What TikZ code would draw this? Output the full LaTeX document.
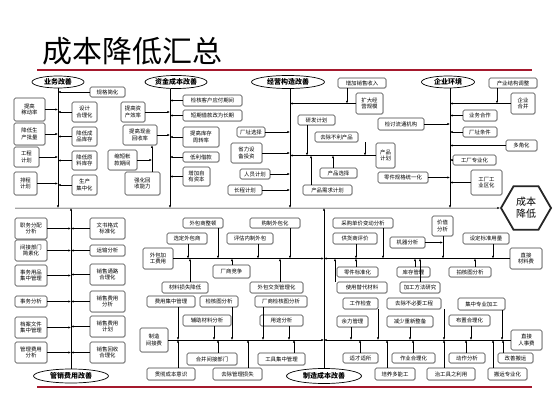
\documentclass[tikz,border=0pt]{standalone}
\usepackage{fontspec}
\setmainfont{Noto Sans CJK SC}
\usetikzlibrary{shapes.geometric,arrows.meta,shadows}
\definecolor{redline}{RGB}{165,25,45}
\tikzset{
 bx/.style={draw=black!75, rounded corners=1.5pt, fill=white, font=\fontsize{5.4}{6.4}\selectfont, align=center, inner sep=0pt, line width=0.55pt, drop shadow={shadow xshift=0.7pt, shadow yshift=-0.7pt, fill=black!35}},
 ell/.style={draw, ellipse, line width=0.7pt, fill=white, font=\fontsize{7}{8}\selectfont\bfseries, inner sep=0pt},
 ln/.style={line width=0.5pt},
 ar/.style={line width=0.5pt, -{Latex[length=2.6pt,width=2.2pt]}},
}
\newcommand\mybox[6]{\node[bx, minimum width={(#4)-(#2)}, minimum height={(#5)-(#3)}] (#1) at ({((#2)+(#4))/2},{((#3)+(#5))/2}) {#6};}
\begin{document}
\begin{tikzpicture}[x=1pt,y=-1pt]
\useasboundingbox (0,0) rectangle (560,420);
\fill[white] (0,0) rectangle (560,420);
% title and rules
\node[font=\fontsize{30}{32}\selectfont, anchor=base west, inner sep=0] (title) at (42,63) {成本降低汇总};
\draw[redline, line width=1.3pt] (37,70) -- (532,70);
\draw[redline, line width=1.3pt] (37,387) -- (532,387);
% main line
\coordinate (mainL) at (15,208);
\node[draw=black!85, line width=1.8pt, regular polygon, regular polygon sides=6, minimum size=50, font=\fontsize{10}{12}\selectfont, align=center, inner sep=0pt, fill=white] (hex) at (526,208) {成本\\降低};
\draw[ar] (mainL) -- (hex.west);
% ---------------- column 1
\node[ell, minimum width=52, minimum height=12] (e1) at (58,82) {业务改善};
\coordinate (L1) at (58,208);
\draw[ar] (e1.south) -- (L1);
\mybox{gg}{90}{87}{125}{97}{规格简化}
\mybox{jd}{14}{98}{45}{121}{提高\\稼动率}
\mybox{sj}{72}{102}{97}{122}{设计\\合理化}
\mybox{pl}{14}{123}{45}{145}{降低生\\产批量}
\mybox{cp}{72}{127}{97}{146}{降低成\\品库存}
\mybox{gc}{14}{147}{39}{167}{工程\\计划}
\mybox{yl}{72}{151}{97}{170}{降低原\\料库存}
\mybox{pc}{14}{172}{37}{195}{排程\\计划}
\mybox{jz}{72}{175}{97}{195}{生产\\集中化}
\foreach \b in {gg,sj,cp,yl,jz} \draw[ar] (\b.west) -- (\b.west -| L1);
\foreach \b in {jd,pl,gc,pc} \draw[ar] (\b.east) -- (\b.east -| L1);
% ---------------- column 2
\node[ell, minimum width=62, minimum height=13] (e2) at (176,82) {资金成本改善};
\coordinate (L2) at (170,208);
\draw[ar] (e2.south -| L2) -- (L2);
\mybox{kh}{183}{95}{242}{106}{检核客户应付期间}
\mybox{dq}{183}{110}{242}{121}{短期借款改为长期}
\mybox{kc}{183}{127}{219}{147}{提高库存\\周转率}
\mybox{dl}{183}{152}{219}{162}{低利借款}
\mybox{zy}{183}{167}{210}{186}{增加自\\有资本}
\mybox{zc}{121}{102}{145}{122}{提高资\\产效率}
\mybox{xj}{123}{125}{157}{145}{提高现金\\回收率}
\mybox{sd}{108}{150}{137}{170}{缩短帐\\款期间}
\mybox{qh}{125}{172}{160}{195}{强化回\\收能力}
\foreach \b in {kh,dq,kc,dl,zy} \draw[ar] (\b.west) -- (\b.west -| L2);
\foreach \b in {zc,xj} \draw[ar] (\b.east) -- (\b.east -| L2);
\coordinate (v2) at (152,160);
\draw[ar] (sd.east) -- (v2);
\draw[ar] (qh.north -| v2) -- (xj.south -| v2);
% ---------------- column 3
\node[ell, minimum width=73, minimum height=13] (e3) at (288,82) {经营构造改善};
\coordinate (L3) at (290,208);
\draw[ar] (e3.south -| L3) -- (L3);
\mybox{xs}{338}{78}{386}{88}{增加销售收入}
\mybox{kd}{356}{93}{383}{114}{扩大经\\营规模}
\mybox{yf}{298}{115}{335}{125}{研发计划}
\mybox{qc}{315}{132}{358}{142}{去除不利产品}
\mybox{cj}{376}{143}{395}{168}{产品\\计划}
\mybox{cx}{320}{168}{357}{178}{产品选择}
\mybox{xq}{303}{185}{352}{195}{产品需求计划}
\mybox{lt}{378}{118}{424}{130}{检讨流通机构}
\mybox{lj}{378}{172}{428}{183}{零件规格统一化}
\mybox{cz}{237}{127}{265}{137}{厂址选择}
\mybox{sl}{231}{143}{262}{163}{省力设\\备投资}
\mybox{ry}{240}{169}{270}{179}{人员计划}
\mybox{cc}{228}{185}{262}{195}{长程计划}
\coordinate (j3a) at (347,103.5);
\draw[ar] (xs.south -| j3a) -- (j3a);
\draw[ar] (kd.west) -- (kd.west -| L3);
\draw[ar] (cj.west) -- (cj.west -| L3);
\coordinate (j3b) at (307,155.5);
\draw[ar] (yf.south -| j3b) -- (j3b);
\coordinate (j3c) at (365,155.5);
\draw[ar] (qc.south -| j3c) -- (j3c);
\coordinate (j3d) at (333,155.5);
\draw[ar] (cx.north -| j3d) -- (j3d);
\coordinate (j3e) at (311,155.5);
\draw[ar] (xq.north -| j3e) -- (j3e);
\draw[ar] (cz.east) -- (cz.east -| L3);
\draw[ar] (sl.east) -- (sl.east -| L3);
\draw[ar] (ry.east) -- (ry.east -| L3);
\draw[ar] (cc.east) -- (cc.east -| L3);
% ---------------- column 4
\node[ell, minimum width=53, minimum height=12] (e4) at (448,82) {企业环境};
\coordinate (L4) at (450,208);
\draw[ar] (e4.south -| L4) -- (L4);
\mybox{cy}{489}{78}{537}{88}{产业结构调整}
\mybox{qy}{511}{93}{535}{114}{企业\\合并}
\mybox{yw}{463}{110}{497}{121}{业务合作}
\mybox{ct}{463}{127}{497}{137}{厂址条件}
\mybox{dj}{506}{140}{537}{151}{多角化}
\mybox{zyh}{453}{155}{496}{165}{工厂专业化}
\mybox{gy}{471}{170}{502}{195}{工厂工\\业区化}
\coordinate (j4a) at (497,103.5);
\draw[ar] (cy.south -| j4a) -- (j4a);
\foreach \b in {qy,yw,ct,dj,zyh,gy} \draw[ar] (\b.west) -- (\b.west -| L4);
\draw[ar] (lt.east) -- (lt.east -| L4);
\draw[ar] (lj.east) -- (lj.east -| L4);
% ---------------- column 5
\node[ell, minimum width=75, minimum height=14] (e5) at (71,376) {管销费用改善};
\draw[ar] (e5.north) -- (e5.north |- mainL);
\coordinate (L5) at (71,208);
\mybox{zw}{15}{218}{47}{239}{职务分配\\分析}
\mybox{jj}{15}{240}{47}{261}{间接部门\\简素化}
\mybox{sw}{15}{265}{47}{286}{事务用品\\集中管理}
\mybox{swf}{15}{296}{47}{307}{事务分析}
\mybox{da}{15}{317}{47}{338}{档案文件\\集中管理}
\mybox{gl}{15}{342}{47}{363}{管理费用\\分析}
\mybox{ws}{90}{218}{125}{239}{文书格式\\标准化}
\mybox{ys}{90}{245}{125}{256}{运输分析}
\mybox{tl}{90}{264}{125}{285}{销售通路\\合理化}
\mybox{fx}{90}{291}{125}{312}{销售费用\\分析}
\mybox{jh}{90}{316}{125}{337}{销售费用\\计划}
\mybox{hs}{90}{342}{125}{363}{销售回收\\合理化}
\foreach \b in {zw,jj,sw,swf,da,gl} \draw[ar] (\b.east) -- (\b.east -| L5);
\foreach \b in {ws,ys,tl,fx,jh,hs} \draw[ar] (\b.west) -- (\b.west -| L5);
% ---------------- column 6
\node[ell, minimum width=75, minimum height=15] (e6) at (324,376) {制造成本改善};
\draw[ar] (e6.north) -- (e6.north |- mainL);
\coordinate (L6) at (324,208);
% upper left
\mybox{wbz}{183}{218}{223}{228}{外包商整顿}
\mybox{xd}{167}{233}{207}{244}{选定外包商}
\mybox{gz}{250}{218}{300}{228}{购制外包化}
\mybox{pg}{227}{233}{273}{244}{评估内制外包}
\mybox{wj}{143}{248}{173}{269}{外包加\\工费用}
\mybox{cs}{213}{265}{250}{278}{厂商竞争}
\mybox{cl}{162}{282}{208}{293}{材料损失降低}
\mybox{wh}{250}{282}{303}{293}{外包交货管理化}
\draw[ar] (wj.east) -- (wj.east -| L6);
\coordinate (u1) at (218,258.5); \draw[ar] (wbz.south -| u1) -- (u1);
\coordinate (u2) at (188,258.5); \draw[ar] (xd.south -| u2) -- (u2);
\coordinate (u3) at (290,258.5); \draw[ar] (gz.south -| u3) -- (u3);
\coordinate (u4) at (258,258.5); \draw[ar] (pg.south -| u4) -- (u4);
\coordinate (u5) at (232,258.5); \draw[ar] (cs.north -| u5) -- (u5);
\coordinate (u6) at (190,258.5); \draw[ar] (cl.north -| u6) -- (u6);
\coordinate (u7) at (280,258.5); \draw[ar] (wh.north -| u7) -- (u7);
% lower left
\mybox{fy}{147}{296}{195}{307}{费用集中管理}
\mybox{jc}{200}{296}{238}{307}{检核图分析}
\mybox{cs2}{255}{296}{307}{307}{厂商检核图分析}
\mybox{fz}{183}{315}{231}{326}{辅助材料分析}
\mybox{yt}{260}{315}{303}{326}{用途分析}
\mybox{zz}{140}{328}{168}{352}{制造\\间接费}
\mybox{hb}{187}{353}{237}{365}{合并间接部门}
\mybox{gq}{147}{368}{195}{380}{贯彻成本意识}
\mybox{qg}{213}{368}{262}{380}{去除管理损失}
\mybox{gj}{258}{353}{305}{365}{工具集中管理}
\draw[ar] (zz.east) -- (zz.east -| L6);
\coordinate (d1) at (178,340); \draw[ar] (fy.south -| d1) -- (d1);
\coordinate (d2) at (214,340); \draw[ar] (fz.south -| d2) -- (d2);
\coordinate (d3) at (232,340); \draw[ar] (jc.south -| d3) -- (d3);
\coordinate (d4) at (263,340); \draw[ar] (cs2.south -| d4) -- (d4);
\coordinate (d5) at (289,340); \draw[ar] (yt.south -| d5) -- (d5);
\coordinate (d6) at (218,340); \draw[ar] (hb.north -| d6) -- (d6);
\coordinate (d7) at (178,340); \draw[ar] (gq.north -| d7) -- (d7);
\coordinate (d8) at (248,340); \draw[ar] (qg.north -| d8) -- (d8);
\coordinate (d9) at (294,340); \draw[ar] (gj.north -| d9) -- (d9);
% upper right
\mybox{cg}{333}{218}{393}{228}{采购单价变动分析}
\mybox{gh}{333}{233}{377}{244}{供货商评价}
\mybox{jq}{390}{237}{425}{248}{机器分析}
\mybox{jz2}{432}{216}{453}{236}{价值\\分析}
\mybox{sb}{463}{233}{509}{244}{设定标准用量}
\mybox{zjc}{510}{248}{542}{269}{直接\\材料费}
\mybox{lb}{337}{267}{378}{277}{零件标准化}
\mybox{kg}{397}{267}{430}{277}{库存管理}
\mybox{pt}{449}{267}{491}{277}{拍核图分析}
\mybox{td}{337}{282}{387}{293}{使用替代材料}
\mybox{jg}{400}{282}{440}{293}{加工方法研究}
\draw[ar] (zjc.west) -- (zjc.west -| L6);
\coordinate (r1) at (383,258.5); \draw[ar] (cg.south -| r1) -- (r1);
\coordinate (r2) at (356,258.5); \draw[ar] (gh.south -| r2) -- (r2);
\coordinate (r3) at (443,258.5); \draw[ar] (jz2.south -| r3) -- (r3);
\coordinate (r3b) at (443,242.5); \draw[ar] (jq.east) -- (r3b);
\coordinate (r4) at (493,258.5); \draw[ar] (sb.south -| r4) -- (r4);
\coordinate (r5) at (356,258.5); \draw[ar] (lb.north -| r5) -- (r5);
\coordinate (r6) at (415,258.5); \draw[ar] (kg.north -| r6) -- (r6);
\coordinate (r7) at (475,258.5); \draw[ar] (pt.north -| r7) -- (r7);
\coordinate (r8) at (335,258.5); \draw[ar] (td.north -| r8) -- (r8);
\coordinate (r9) at (420,258.5); \draw[ar] (jg.north -| r9) -- (r9);
% lower right
\mybox{gzj}{343}{298}{378}{309}{工作检查}
\mybox{bb}{387}{298}{441}{309}{去除不必要工程}
\mybox{zyj}{458}{298}{505}{310}{集中专业加工}
\mybox{ylg}{337}{316}{368}{327}{余力管理}
\mybox{js}{387}{316}{433}{327}{减少重新整备}
\mybox{bz}{449}{315}{490}{326}{布置合理化}
\mybox{zjr}{511}{330}{542}{350}{直接\\人事费}
\mybox{sc}{343}{353}{378}{363}{适才适所}
\mybox{zh}{392}{353}{435}{363}{作业合理化}
\mybox{dz}{449}{353}{485}{363}{动作分析}
\mybox{gs}{498}{353}{533}{363}{改善搬运}
\mybox{py}{375}{368}{415}{380}{培养多能工}
\mybox{zg}{427}{368}{475}{380}{治工具之利用}
\mybox{by}{488}{368}{527}{380}{搬运专业化}
\draw[ar] (zjr.west) -- (zjr.west -| L6);
\coordinate (s1) at (378,340); \draw[ar] (gzj.south -| s1) -- (s1);
\coordinate (s2) at (444,340); \draw[ar] (bb.south -| s2) -- (s2);
\coordinate (s3) at (502,340); \draw[ar] (zyj.south -| s3) -- (s3);
\coordinate (s4) at (351,340); \draw[ar] (ylg.south -| s4) -- (s4);
\coordinate (s5) at (410,340); \draw[ar] (js.south -| s5) -- (s5);
\coordinate (s6) at (471,340); \draw[ar] (bz.south -| s6) -- (s6);
\coordinate (s7) at (360,340); \draw[ar] (sc.north -| s7) -- (s7);
\coordinate (s8) at (413,340); \draw[ar] (zh.north -| s8) -- (s8);
\coordinate (s9) at (466,340); \draw[ar] (dz.north -| s9) -- (s9);
\coordinate (s10) at (503,340); \draw[ar] (gs.north -| s10) -- (s10);
\coordinate (s11) at (387,340); \draw[ar] (py.north -| s11) -- (s11);
\coordinate (s12) at (444,340); \draw[ar] (zg.north -| s12) -- (s12);
\coordinate (s13) at (493,340); \draw[ar] (by.north -| s13) -- (s13);
\end{tikzpicture}
\end{document}
